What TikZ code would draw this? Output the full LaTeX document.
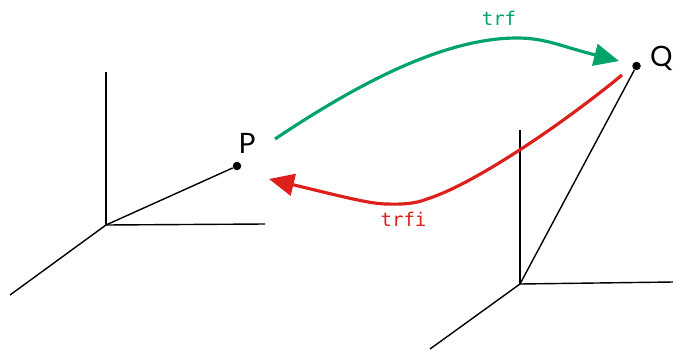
\documentclass[tikz,border=0pt]{standalone}
\usepackage{fontspec}
\setmainfont{Lato}
\setmonofont{DejaVu Sans Mono}
\usetikzlibrary{arrows.meta}
\definecolor{trfgreen}{RGB}{0,163,104}
\definecolor{trfred}{RGB}{220,32,28}
\tikzset{
    axis/.style={black, line width=0.8pt},
    dotmark/.style={circle, fill=black, inner sep=0pt, minimum size=0.17cm},
    ptlabel/.style={font=\fontsize{16}{19}\selectfont, inner sep=0pt},
    trflabel/.style={font=\ttfamily\fontsize{10.8}{13}\selectfont, inner sep=0pt},
    trfarrow/.style={line width=1.8pt, -{Triangle[length=0.5cm, width=0.44cm]}},
}
\begin{document}
\begin{tikzpicture}
    \useasboundingbox (0,0) rectangle (13.46,6.98);
    % frame at P
    \coordinate (oP) at (2.12,2.48);
    \draw[axis] (oP) -- (2.12,5.54);
    \draw[axis] (oP) -- (5.30,2.50);
    \draw[axis] (oP) -- (0.20,1.08);
    \node[dotmark] (P) at (4.74,3.66) {};
    \node[ptlabel] (Plabel) at (4.94,4.12) {P};
    \draw[axis] (oP) -- (P);
    % frame at Q
    \coordinate (oQ) at (10.40,1.30);
    \draw[axis] (oQ) -- (10.40,4.38);
    \draw[axis] (oQ) -- (13.46,1.34);
    \draw[axis] (oQ) -- (8.60,0);
    \node[dotmark] (Q) at (12.73,5.66) {};
    \node[ptlabel, anchor=east] (Qlabel) at (13.46,5.82) {Q};
    \draw[axis] (oQ) -- (Q);
    % transforms
    \coordinate (gs) at (5.50,4.20);
    \coordinate (gm) at (10.34,6.22);
    \coordinate (ge) at (12.38,5.76);
    \draw[trfarrow, trfgreen] (gs) .. controls (7.00,5.20) and (8.80,6.22) .. (gm)
        .. controls (10.90,6.22) and (11.20,6.06) .. (ge);
    \coordinate (rs) at (12.44,5.48);
    \coordinate (rk) at (8.54,3.00);
    \coordinate (rm) at (7.74,2.90);
    \coordinate (re) at (5.38,3.40);
    \draw[trfarrow, trfred] (rs) .. controls (11.30,4.54) and (9.50,3.30) .. (rk)
        .. controls (8.30,2.90) and (8.00,2.89) .. (rm)
        .. controls (7.40,2.90) and (6.80,3.06) .. (re);
    \node[trflabel, trfgreen] (trf) at (9.98,6.62) {trf};
    \node[trflabel, trfred] (trfi) at (8.07,2.60) {trfi};
\end{tikzpicture}
\end{document}
